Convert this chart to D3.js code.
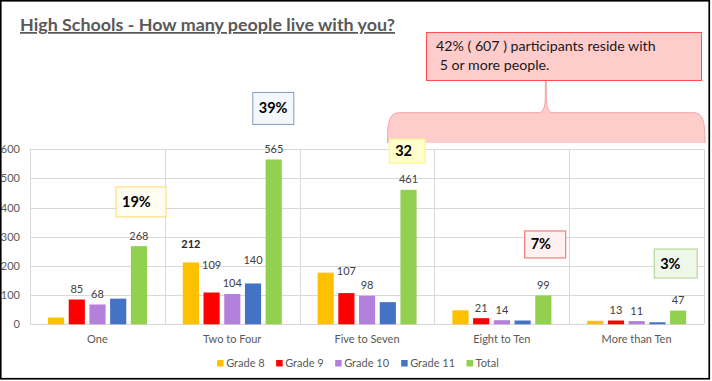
<!DOCTYPE html>
<html>
<head>
<meta charset="utf-8">
<script src="https://cdn.jsdelivr.net/npm/d3@7"></script>
<style>
  body { margin: 0; background: #fff; }
  text { font-family: Lato, "Open Sans", sans-serif; }
</style>
</head>
<body>
<script>
// categorias e séries
var categories = ["One", "Two to Four", "Five to Seven", "Eight to Ten", "More than Ten"];
var series = ["Grade 8", "Grade 9", "Grade 10", "Grade 11", "Total"];
var grade8  = [23, 212, 177, 48, 12];
var grade9  = [85, 109, 107, 21, 13];
var grade10 = [68, 104, 98, 14, 11];
var grade11 = [88, 140, 76, 13, 7];
var total   = [268, 565, 461, 99, 47];
var yTicks = [0, 100, 200, 300, 400, 500, 600];
// quais rótulos aparecem (linha = categoria, coluna = série)
var showLabel = [
  [false, true, true, false, true],
  [true,  true, true, true,  true],
  [false, true, true, false, true],
  [false, true, true, false, true],
  [false, true, true, false, true]
];
var percentText = ["19%", "39%", "32", "7%", "3%"];
var calloutLines = ["42% ( 607 ) participants reside with", " 5 or more people."];
var titleText = "High Schools - How many people live with you?";

var colors = ["#FFC000", "#FF0000", "#B381DB", "#4472C4", "#92D050"];
var values = [grade8, grade9, grade10, grade11, total];

var W = 712, H = 381;
var svg = d3.select("body").append("svg")
  .attr("width", W).attr("height", H);

// área do gráfico
var plot = {left: 30, right: 704, top: 149.3, bottom: 324.3};

var x = d3.scaleBand().domain(categories).range([plot.left, plot.right]).paddingInner(0).paddingOuter(0);
var xs = d3.scaleBand().domain(series).range([18, x.bandwidth() - 17.8]).paddingInner(0.22).paddingOuter(0);
var y = d3.scaleLinear().domain([0, 600]).range([plot.bottom, plot.top]);

// grade horizontal
svg.append("g").selectAll("line")
  .data(yTicks)
  .enter().append("line")
  .attr("x1", plot.left).attr("x2", plot.right)
  .attr("y1", function(d) { return Math.round(y(d)) + 0.5; })
  .attr("y2", function(d) { return Math.round(y(d)) + 0.5; })
  .attr("stroke", "#D9D9D9").attr("stroke-width", 1);

// grade vertical entre categorias
var bounds = categories.map(function(c) { return x(c); }).concat([plot.right]);
svg.append("g").selectAll("line")
  .data(bounds)
  .enter().append("line")
  .attr("x1", function(d) { return Math.round(d) + 0.5; })
  .attr("x2", function(d) { return Math.round(d) + 0.5; })
  .attr("y1", plot.top).attr("y2", plot.bottom)
  .attr("stroke", "#D9D9D9").attr("stroke-width", 1);

// eixo y
var yAxis = d3.axisLeft(y).tickValues(yTicks).tickSize(0).tickPadding(0);
var gy = svg.append("g")
  .attr("transform", "translate(20,0)")
  .call(yAxis);
gy.select(".domain").remove();
gy.selectAll("text")
  .attr("fill", "#595959")
  .style("font-size", "11px")
  .style("font-family", "Lato, sans-serif");

// eixo x (rótulos das categorias)
var xAxis = d3.axisBottom(x).tickSize(0).tickPadding(0);
var gx = svg.append("g")
  .attr("transform", "translate(0,335)")
  .call(xAxis);
gx.select(".domain").remove();
gx.selectAll("text")
  .attr("fill", "#595959")
  .style("font-size", "11px")
  .style("font-family", "Lato, sans-serif");

// barras
var groups = svg.append("g").selectAll("g")
  .data(categories)
  .enter().append("g")
  .attr("transform", function(c) { return "translate(" + x(c) + ",0)"; });

groups.selectAll("rect")
  .data(function(c, i) {
    return series.map(function(s, j) { return {cat: i, s: j, name: s, v: values[j][i]}; });
  })
  .enter().append("rect")
  .attr("x", function(d) { return xs(d.name); })
  .attr("width", xs.bandwidth())
  .attr("y", function(d) { return y(d.v); })
  .attr("height", function(d) { return y(0) - y(d.v); })
  .attr("fill", function(d) { return colors[d.s]; });

// rótulos dos valores (alguns foram deslocados à mão no original)
var labelLift = {"1-0": 8, "1-1": 17, "1-3": 13, "2-1": 12};
groups.selectAll("text.val")
  .data(function(c, i) {
    return series.map(function(s, j) { return {cat: i, s: j, name: s, v: values[j][i]}; })
      .filter(function(d) { return showLabel[d.cat][d.s]; });
  })
  .enter().append("text")
  .attr("class", "val")
  .attr("x", function(d) { return xs(d.name) + xs.bandwidth() / 2; })
  .attr("y", function(d) { return y(d.v) - 6.5 - (labelLift[d.cat + "-" + d.s] || 0); })
  .attr("text-anchor", "middle")
  .attr("fill", function(d) { return d.cat === 1 && d.s === 0 ? "#262626" : "#404040"; })
  .style("font-weight", function(d) { return d.cat === 1 && d.s === 0 ? "bold" : "normal"; })
  .style("font-size", "11px")
  .text(function(d) { return d.v; });

// caixas de percentual
var boxStyle = [
  {dx: 86,   top: 471, w: 50, h: 30, stroke: "#FFD966", fill: "#FFFDF2"},
  {dx: 88,   top: 795, w: 41, h: 32, stroke: "#7F9CC0", fill: "#F4F8FC"},
  {dx: 89.6, top: 635, w: 36, h: 24, stroke: "#FFF27A", fill: "#FFFFCC"},
  {dx: 90.3, top: 320, w: 41, h: 27, stroke: "#F26666", fill: "#FFF1F1"},
  {dx: 85,   top: 258, w: 43, h: 29, stroke: "#A9D18E", fill: "#EFF7E9"}
];

// chave (brace) e caixa de texto
var bx0 = 387.5, bx1 = 705, byTop = 112.7, byBot = 143, tipX = 545.8, tipY = 81;
var braceCurve = "M" + bx0 + "," + byBot +
  " C" + bx0 + "," + (byTop + 8) + " " + (bx0 + 2) + "," + byTop + " " + (bx0 + 12) + "," + byTop +
  " L" + (tipX - 7) + "," + byTop +
  " C" + (tipX - 1.5) + "," + byTop + " " + (tipX - 0.6) + "," + (byTop - 8) + " " + (tipX - 0.5) + "," + (byTop - 16) +
  " L" + (tipX - 0.4) + "," + tipY + " L" + (tipX + 0.4) + "," + tipY +
  " L" + (tipX + 0.5) + "," + (byTop - 16) +
  " C" + (tipX + 0.6) + "," + (byTop - 8) + " " + (tipX + 1.5) + "," + byTop + " " + (tipX + 7) + "," + byTop +
  " L" + (bx1 - 12) + "," + byTop +
  " C" + (bx1 - 2) + "," + byTop + " " + bx1 + "," + (byTop + 8) + " " + bx1 + "," + byBot;
svg.append("path").attr("d", braceCurve + " Z").attr("fill", "#FFCCCC").attr("stroke", "none");
svg.append("path").attr("d", braceCurve).attr("fill", "none").attr("stroke", "#F4A3A3").attr("stroke-width", 1);

svg.append("rect")
  .attr("x", 426.5).attr("y", 32.5).attr("width", 275).attr("height", 48)
  .attr("fill", "#FFCCCC").attr("stroke", "#FF4F4F").attr("stroke-width", 1);
svg.append("g").selectAll("text")
  .data(calloutLines)
  .enter().append("text")
  .attr("x", 436).attr("y", function(d, i) { return 50.5 + i * 19.5; })
  .attr("fill", "#1a1a1a")
  .style("font-size", "14.2px")
  .attr("xml:space", "preserve")
  .text(function(d) { return d; });

var boxes = svg.append("g").selectAll("g")
  .data(categories)
  .enter().append("g");
boxes.append("rect")
  .attr("x", function(c, i) { return x(c) + boxStyle[i].dx; })
  .attr("y", function(c, i) { return y(boxStyle[i].top); })
  .attr("width", function(c, i) { return boxStyle[i].w; })
  .attr("height", function(c, i) { return boxStyle[i].h; })
  .attr("fill", function(c, i) { return boxStyle[i].fill; })
  .attr("stroke", function(c, i) { return boxStyle[i].stroke; })
  .attr("stroke-width", 1);
boxes.append("text")
  .attr("x", function(c, i) { return x(c) + boxStyle[i].dx + 6; })
  .attr("y", function(c, i) { return y(boxStyle[i].top) + boxStyle[i].h / 2 + 5; })
  .attr("fill", "#000")
  .style("font-weight", "bold")
  .style("font-size", "14.5px")
  .text(function(c, i) { return percentText[i]; });

// título
svg.append("text")
  .attr("x", 20).attr("y", 31)
  .attr("fill", "#595959")
  .style("font-weight", "bold")
  .style("font-size", "17.5px")
  .style("text-decoration", "underline")
  .attr("textLength", 375)
  .attr("lengthAdjust", "spacingAndGlyphs")
  .text(titleText);

// legenda
var legend = svg.append("g").attr("transform", "translate(0,363)");
var items = legend.selectAll("g")
  .data(series)
  .enter().append("g");
items.append("rect")
  .attr("width", 6.5).attr("height", 6.5).attr("y", -3)
  .attr("fill", function(d, i) { return colors[i]; });
items.append("text")
  .attr("x", 9).attr("y", 4)
  .attr("fill", "#595959")
  .style("font-size", "11px")
  .text(function(d) { return d; });
var pos = 0, offsets = [];
items.each(function() {
  offsets.push(pos);
  pos += this.getBBox().width + 11.5;
});
var legW = pos - 11.5, legX = 358 - legW / 2;
items.attr("transform", function(d, i) { return "translate(" + (legX + offsets[i]) + ",0)"; });

// moldura
svg.append("rect")
  .attr("x", 0.75).attr("y", 0.75).attr("width", 708.5).attr("height", 378)
  .attr("fill", "none").attr("stroke", "#000").attr("stroke-width", 1.7);
</script>
</body>
</html>
